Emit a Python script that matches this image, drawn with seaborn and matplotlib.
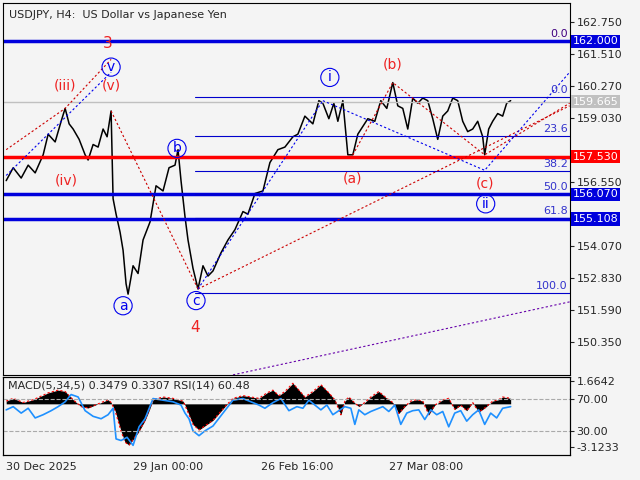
import matplotlib
matplotlib.use("Agg")
import matplotlib.pyplot as plt
import seaborn as sns
import pandas as pd

sns.set_style("white")
plt.rcParams['font.family'] = ['DejaVu Sans']

# price swing path (bar position, price)
px = [3,10,18,25,32,40,45,52,58,62,66,70,76,82,85,90,95,100,104,108,110,113,117,120,123,125,130,135,140,147,153,160,166,172,175,178,182,185,190,195,200,205,210,218,225,232,240,245,252,260,267,275,282,290,295,302,310,316,320,326,331,335,340,345,350,355,360,365,372,378,384,390,395,400,405,410,415,420,425,430,435,440,445,450,455,460,465,470,475,480,482,486,490,495,500,504,508]
py = [156.6,157.1,156.7,157.2,156.9,157.6,158.4,158.1,158.9,159.4,158.8,158.6,158.2,157.6,157.4,158.0,157.9,158.6,158.3,159.3,155.9,155.3,154.6,153.9,152.6,152.2,153.3,153.0,154.3,155.0,156.4,156.2,157.1,157.2,157.8,156.6,155.2,154.3,153.2,152.4,153.3,152.9,153.1,153.8,154.3,154.7,155.4,155.3,156.1,156.2,157.3,157.8,157.9,158.3,158.4,159.1,158.8,159.7,159.6,159.0,159.6,158.9,159.7,157.6,157.6,158.4,158.7,159.0,158.9,159.7,159.4,160.4,159.5,159.4,158.6,159.8,159.6,159.8,159.7,159.0,158.2,159.1,159.3,159.8,159.7,158.9,158.5,158.6,158.9,158.3,157.6,158.6,158.9,159.2,159.1,159.6,159.7]

# RSI path
rx = [3,10,18,25,32,40,48,55,62,68,75,82,90,98,105,110,113,118,124,130,136,142,150,160,170,178,182,186,190,196,202,210,220,230,240,248,256,262,270,278,286,294,300,306,312,318,324,330,336,342,348,352,356,362,368,374,380,386,392,398,404,410,416,422,428,434,440,446,452,458,464,470,476,482,488,494,500,508]
ry = [56,60,52,58,46,50,55,60,66,75,72,55,48,45,50,58,20,18,22,12,35,45,70,68,66,62,52,45,30,24,30,36,52,68,70,66,62,58,65,70,55,60,58,68,62,56,62,50,55,60,58,38,56,50,54,57,60,54,62,38,52,55,56,44,56,50,54,35,52,55,42,50,56,38,52,46,58,60]

# MACD histogram path
mx = [3,10,20,30,45,55,62,70,78,85,95,105,108,112,118,122,126,130,136,142,146,150,160,170,180,182,186,190,196,202,210,216,222,230,240,248,256,264,270,276,282,290,296,302,310,318,326,332,338,342,346,350,356,362,368,376,384,390,396,402,408,414,420,426,432,440,446,452,458,464,470,476,482,490,496,500,508]
my = [0.2,0.4,0.1,0.3,0.8,1.0,0.9,0.3,-0.2,-0.3,0.0,0.3,0.1,-0.5,-2.0,-2.8,-3.0,-2.6,-2.0,-1.2,-0.5,0.3,0.5,0.4,0.2,-0.1,-0.8,-1.5,-1.9,-1.6,-1.2,-0.7,-0.2,0.4,0.6,0.5,0.4,0.8,1.0,0.6,0.9,1.5,1.0,0.5,0.9,1.4,0.8,0.3,-0.8,0.2,0.5,0.2,-0.2,0.1,0.5,0.9,0.4,0.1,-0.7,-0.2,0.2,0.3,0.2,-0.8,-0.1,0.3,0.4,-0.4,-0.1,-0.5,0.1,-0.6,-0.3,0.2,0.3,0.5,0.4]

fig = plt.figure(figsize=(6.4, 4.8), dpi=100, facecolor='#f4f4f4')
ax = fig.add_axes([0.005, 0.219, 0.885, 0.775], facecolor='#f4f4f4')
ax2 = fig.add_axes([0.005, 0.052, 0.885, 0.163], facecolor='#f4f4f4')

sns.lineplot(x=px, y=py, ax=ax, color='black', lw=1.1, sort=False)
ax.set_xlim(0, 567)
ax.set_ylim(149.07, 163.49)

ax.axhline(159.665, color='#c0c0c0', lw=1)
for lv, c in [(162.0, '#0000dd'), (157.53, '#ff0000'), (156.07, '#0000dd'), (155.108, '#0000dd')]:
    ax.axhline(lv, color=c, lw=2.5)

fibx = 192
for lv, lab in [(159.84, '0.0'), (158.33, '23.6'), (156.98, '38.2'), (156.07, '50.0'), (155.15, '61.8'), (152.25, '100.0')]:
    ax.plot([fibx, 567], [lv, lv], color='#0000cc', lw=0.8)
    ax.text(565, lv + 0.08, lab, color='#3333cc', fontsize=8, ha='right', va='bottom')
ax.text(565, 162.08, '0.0', color='#400080', fontsize=8, ha='right', va='bottom')

red = dict(color='#cc0000', lw=0.8, ls=(0, (2, 2)))
blue = dict(color='#0000ee', lw=0.8, ls=(0, (2, 2)))
ax.plot([3, 62, 108], [157.8, 159.4, 161.3], **red)
ax.plot([108, 195], [159.3, 152.4], **red)
ax.plot([195, 567], [152.4, 159.5], **red)
ax.plot([350, 390, 482, 567], [157.6, 160.4, 157.6, 159.6], **red)
ax.plot([230, 567], [149.07, 151.9], color='#6600aa', lw=0.8, ls=(0, (2, 2)))
ax.plot([3, 108], [156.8, 160.8], **blue)
ax.plot([320, 482, 567], [159.7, 157.0, 160.8], **blue)
ax.plot([195, 320], [152.4, 159.7], **blue)

def circ(x, y, t):
    ax.text(x, y, t, color='#0000ee', fontsize=10, ha='center', va='center',
            bbox=dict(boxstyle='circle,pad=0.15', fc='none', ec='#0000ee', lw=0.8))

def redt(x, y, t, s=10):
    ax.text(x, y, t, color='#ee2222', fontsize=s, ha='center', va='center')

circ(108, 161.0, 'v'); circ(120, 151.75, 'a'); circ(174, 157.85, 'b'); circ(193, 151.95, 'c')
circ(327, 160.6, 'i'); circ(483, 155.7, 'ii')
redt(105, 161.9, '3', 11); redt(62, 160.3, '(iii)'); redt(108, 160.3, '(v)'); redt(63, 156.6, '(iv)')
redt(192, 150.9, '4', 11); redt(390, 161.1, '(b)'); redt(350, 156.7, '(a)'); redt(482, 156.5, '(c)')

ax.text(6, 163.2, 'USDJPY, H4:  US Dollar vs Japanese Yen', fontsize=8, va='top')

ticks = [162.750, 161.510, 160.270, 159.030, 156.550, 154.070, 152.830, 151.590, 150.350]
ax.yaxis.tick_right()
ax.set_yticks(ticks)
ax.set_yticklabels([f'{t:.3f}' for t in ticks], fontsize=8)
ax.tick_params(axis='y', length=3, pad=2)
ax.set_xticks([])
for v, fc in [(162.0, '#0000dd'), (159.665, '#c0c0c0'), (157.53, '#ff0000'), (156.07, '#0000dd'), (155.108, '#0000dd')]:
    ax.text(1.005, v, f'{v:.3f}', transform=ax.get_yaxis_transform(), fontsize=8, color='white', va='center',
            ha='left', bbox=dict(boxstyle='square,pad=0.15', fc=fc, ec='none'))

# indicator: MACD histogram (twin) + RSI
ax3 = ax2.twinx()
ax3.fill_between(mx, 0, my, color='black', lw=0)
ax3.plot(mx, my, color='#ff0000', lw=0.8, ls=(0, (2, 2)))
ax3.set_ylim(-3.73, 1.97)
ax3.set_yticks([]); ax3.set_xlim(0, 567)
sns.lineplot(x=rx, y=ry, ax=ax2, color='#1e90ff', lw=1.2, sort=False)
ax2.set_zorder(ax3.get_zorder() + 1); ax2.patch.set_visible(False)
ax3.patch.set_facecolor('#f4f4f4')
ax2.set_xlim(0, 567); ax2.set_ylim(0, 97)
ax2.axhline(70, color='#aaaaaa', lw=0.8, ls='--'); ax2.axhline(30, color='#aaaaaa', lw=0.8, ls='--')
ax2.yaxis.tick_right()
ax2.set_yticks([92, 70, 30, 10]); ax2.set_yticklabels(['1.6642', '70.00', '30.00', '-3.1233'], fontsize=8)
ax2.text(5, 93, 'MACD(5,34,5) 0.3479 0.3307 RSI(14) 60.48', fontsize=8, va='top')
ax2.set_xticks([3, 130, 258, 386])
ax2.set_xticklabels(['30 Dec 2025', '29 Jan 00:00', '26 Feb 16:00', '27 Mar 08:00'], fontsize=8, ha='left')
ax2.tick_params(length=3, pad=2)
for a in (ax, ax2, ax3):
    for s in a.spines.values():
        s.set_color('black'); s.set_linewidth(0.8)

fig.savefig('out.png', dpi=100, facecolor='#f4f4f4')
